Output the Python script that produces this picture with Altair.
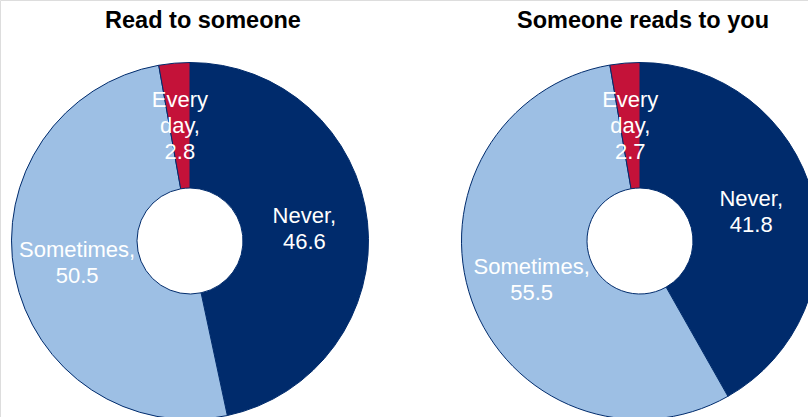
import math
import altair as alt
import pandas as pd

# ---- data ----
charts = ["Read to someone", "Someone reads to you"]
categories = ["Never", "Sometimes", "Every day"]
label_heads = ["Never,", "Sometimes,", "Every\nday,"]
values_read_to = [46.6, 50.5, 2.8]
values_read_by = [41.8, 55.5, 2.7]
colors = ["#002B6C", "#9DBFE4", "#C41239"]

rows = []
for chart, vals in zip(charts, [values_read_to, values_read_by]):
    for i, (cat, head, v) in enumerate(zip(categories, label_heads, vals)):
        rows.append({"chart": chart, "category": cat, "order": i,
                     "value": v, "label": f"{head}\n{v}"})
df = pd.DataFrame(rows)
titles_df = pd.DataFrame({"chart": charts})

xscale = alt.Scale(type="point", domain=charts, range=[190, 640], padding=0)
tscale = alt.Scale(domain=[0, 1], range=[0, 2 * math.pi])
LINE_H = 26

base = (
    alt.Chart(df)
    .transform_joinaggregate(total="sum(value)", groupby=["chart"])
    .transform_window(cum="sum(value)", groupby=["chart"],
                      sort=[alt.SortField("order")], frame=[None, 0])
    .transform_calculate(
        t1="(datum.cum - datum.value) / datum.total",
        t2="datum.cum / datum.total",
        tm="(datum.cum - datum.value / 2) / datum.total",
    )
)

arcs = base.mark_arc(outerRadius=178.5, innerRadius=53, stroke="#002B6C",
                     strokeWidth=1).encode(
    x=alt.X("chart:N", scale=xscale, axis=None),
    y=alt.value(241),
    theta=alt.Theta("t1:Q", scale=tscale),
    theta2="t2:Q",
    color=alt.Color("category:N", scale=alt.Scale(domain=categories, range=colors),
                    legend=None),
)

lines_base = (
    base.transform_calculate(lines="split(datum.label, '\\n')")
    .transform_flatten(["lines"], as_=["line"])
    .transform_window(k="row_number()", groupby=["chart", "category"])
    .transform_joinaggregate(n="count()", groupby=["chart", "category"])
    .transform_calculate(h="2 * datum.k - 1 - datum.n")
)

label_layers = []
for h in [-2, -1, 0, 1, 2]:
    label_layers.append(
        lines_base.transform_filter(alt.datum.h == h)
        .mark_text(font="Liberation Sans", fontSize=22, color="white",
                   align="center", baseline="middle", dy=h * LINE_H / 2)
        .encode(
            x=alt.X("chart:N", scale=xscale, axis=None),
            y=alt.value(241),
            theta=alt.Theta("tm:Q", scale=tscale),
            radius=alt.value(115),
            text="line:N",
        )
    )

title_style = dict(font="Liberation Sans", fontSize=23.5, fontWeight="bold",
                   color="black", align="center", baseline="alphabetic")
title_left = alt.Chart(titles_df).transform_filter(
    alt.datum.chart == charts[0]).mark_text(dx=13, **title_style).encode(
    x=alt.X("chart:N", scale=xscale, axis=None), y=alt.value(28), text="chart:N")
title_right = alt.Chart(titles_df).transform_filter(
    alt.datum.chart == charts[1]).mark_text(dx=3, **title_style).encode(
    x=alt.X("chart:N", scale=xscale, axis=None), y=alt.value(28), text="chart:N")

chart = (
    alt.layer(arcs, *label_layers, title_left, title_right)
    .properties(width=808, height=417, padding=0,
                autosize=alt.AutoSizeParams(type="none"))
    .configure_view(stroke=None)
    .configure(background="white")
)

chart.save("out.html", embed_options={"renderer": "svg", "actions": False})
